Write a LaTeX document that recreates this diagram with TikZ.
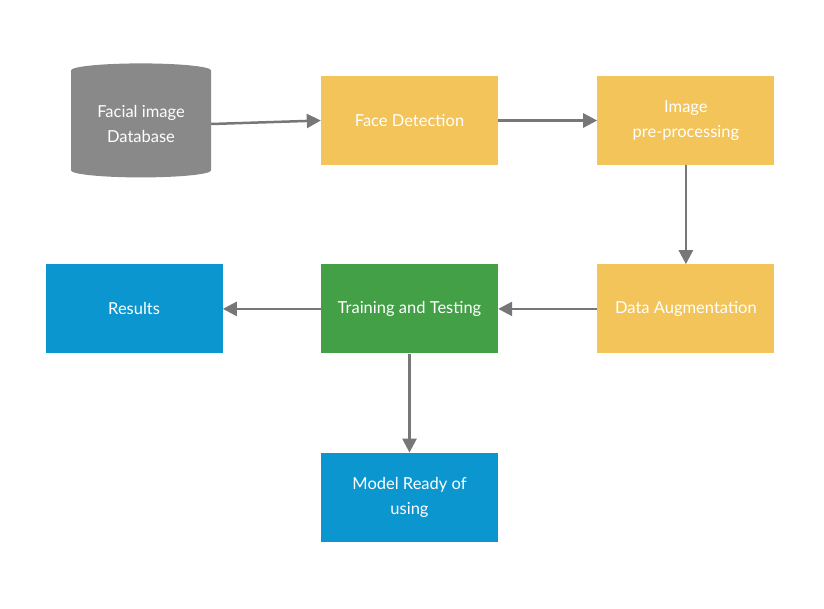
\documentclass[tikz,border=0pt]{standalone}
\usepackage{fontspec}
\setmainfont{Lato}
\usepackage{xcolor}
\usetikzlibrary{arrows.meta,positioning,shapes.geometric}
\definecolor{mycgold}{HTML}{F2C45A}
\definecolor{mycgreen}{HTML}{43A047}
\definecolor{mycblue}{HTML}{0B96CF}
\definecolor{mycgray}{HTML}{898989}
\definecolor{mycarrow}{HTML}{777777}

\begin{document}
\begin{tikzpicture}[
 x=1pt,y=-1pt,
 node distance=99pt and 99pt,
 b/.style={align=center,minimum width=177pt,minimum height=89pt,text=white,
   font=\fontsize{16.5}{25}\selectfont,inner sep=0pt},
 a/.style={-{Triangle[length=14pt,width=14pt]},line width=2.5pt,mycarrow}
]
\useasboundingbox (0,0) rectangle (824,608);
\node[b,fill=mycgold] (fd) at (409.5,120.5) {Face Detection};
\node[b,right=of fd,fill=mycgold] (ip) {Image\\pre-processing};
\node[b,below=of ip,fill=mycgold] (da) {Data Augmentation};
\node[b,below=of fd,fill=mycgreen] (tt) {Training and Testing};
\node[b,left=98pt of tt,fill=mycblue] (res) {Results};
\node[b,below=of tt,fill=mycblue] (mr) {Model Ready of\\using};
\node[cylinder,shape border rotate=90,aspect=0.16,draw=none,fill=mycgray,
  minimum width=140pt,minimum height=114pt,inner sep=0pt,text=white,align=center,
  font=\fontsize{16.5}{25}\selectfont] (db) at (141,124) {Facial image\\Database};
\draw[a] (db.east) -- (fd.west);
\draw[a] (fd) -- (ip);
\draw[a] (ip) -- (da);
\draw[a] (da) -- (tt);
\draw[a] (tt) -- (res);
\draw[a] (tt) -- (mr);
\end{tikzpicture}
\end{document}
